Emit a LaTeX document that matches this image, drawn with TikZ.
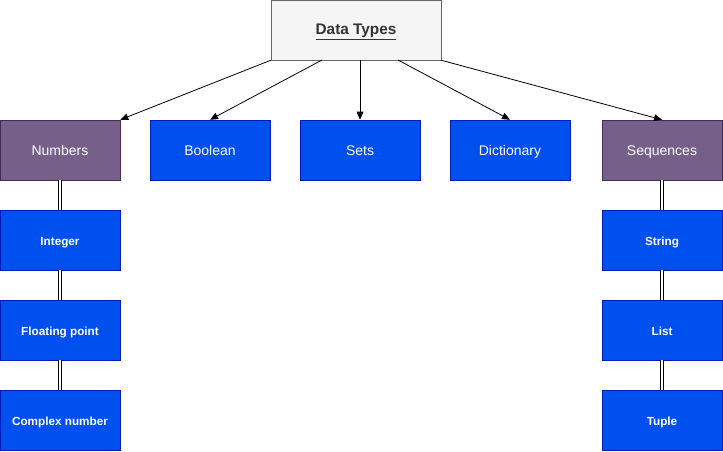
\documentclass[tikz,border=0pt]{standalone}
\usepackage{fontspec}
\setmainfont{Liberation Sans}
\usetikzlibrary{arrows.meta}
\definecolor{topfill}{HTML}{F5F5F5}
\definecolor{topline}{HTML}{666666}
\definecolor{toptext}{HTML}{333333}
\definecolor{purfill}{HTML}{76608A}
\definecolor{purline}{HTML}{432D57}
\definecolor{bluefill}{HTML}{0050EF}
\definecolor{blueline}{HTML}{001DBC}
\tikzset{
  box/.style={draw, minimum width=90pt, minimum height=45pt, inner sep=0pt, text=white,
    text height=0.9em, text depth=0.1em},
  group/.style={box, fill=purfill, draw=purline, font=\fontsize{10.5}{12}\selectfont},
  kind/.style={box, fill=bluefill, draw=blueline, font=\fontsize{10.5}{12}\selectfont},
  item/.style={box, fill=bluefill, draw=blueline, font=\fontsize{8.8}{10}\selectfont\bfseries},
  arr/.style={-{Triangle[length=6pt,width=5pt]}, line width=0.6pt},
  link/.style={double, double distance=1.6pt, line width=0.6pt}
}
\begin{document}
\begin{tikzpicture}[x=0.75pt,y=-0.75pt]
    \useasboundingbox (0,0) rectangle (723,451);
    \node[box, fill=topfill, draw=topline, text=toptext, minimum width=127.5pt,
          text height=0.85em, text depth=0.25em,
          font=\fontsize{11.5}{13}\selectfont\bfseries] (top) at (356,30) {\underline{Data Types}};
    \node[group] (num) at (60,150) {Numbers};
    \node[kind] (bool) at (210,150) {Boolean};
    \node[kind] (sets) at (360,150) {Sets};
    \node[kind] (dict) at (510,150) {Dictionary};
    \node[group] (seq) at (662,150) {Sequences};
    % numbers
    \node[item] (int) at (60,240) {Integer};
    \node[item] (flt) at (60,330) {Floating point};
    \node[item] (cpx) at (60,420) {Complex number};
    % sequences
    \node[item] (str) at (662,240) {String};
    \node[item] (lst) at (662,330) {List};
    \node[item] (tup) at (662,420) {Tuple};
    % arrows
    \coordinate (t1) at (322,60);
    \coordinate (t2) at (360,60);
    \coordinate (t3) at (398,60);
    \draw[arr] (top.south west) -- (num.north east);
    \draw[arr] (t1) -- (bool.north);
    \draw[arr] (t2) -- (sets.north);
    \draw[arr] (t3) -- (dict.north);
    \draw[arr] (top.south east) -- (seq.north);
    % links
    \draw[link] (num) -- (int);
    \draw[link] (int) -- (flt);
    \draw[link] (flt) -- (cpx);
    \draw[link] (seq) -- (str);
    \draw[link] (str) -- (lst);
    \draw[link] (lst) -- (tup);
\end{tikzpicture}
\end{document}
